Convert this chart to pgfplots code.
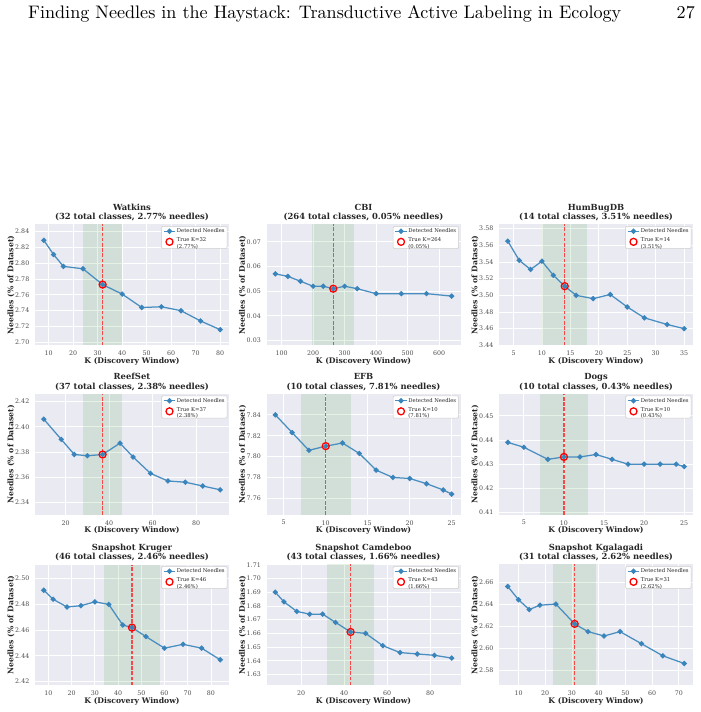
\documentclass[border=0pt]{standalone}
\usepackage{pgfplots}
\pgfplotsset{compat=1.18}
\usepackage{fontspec}
\newfontfamily\djv{DejaVu Serif}

\definecolor{sbbg}{HTML}{EAEAF2}
\definecolor{needle}{RGB}{72,142,192}
\definecolor{needlemark}{RGB}{58,132,188}
\definecolor{ticktxt}{HTML}{4D4D4D}
\definecolor{labtxt}{HTML}{262626}
\definecolor{bandgreen}{RGB}{0,128,0}
\definecolor{kred}{RGB}{245,72,72}

\newcommand\tickfont{\djv\fontsize{6.3}{7}\selectfont}
\newcommand\labfont{\djv\bfseries\fontsize{7.7}{9}\selectfont}
\newcommand\titfont{\djv\bfseries\fontsize{8.4}{9.8}\selectfont}
\newcommand\legfont{\djv\fontsize{5.3}{6.6}\selectfont}

\pgfplotsset{
  panel/.style={
    scale only axis, width=194pt, height=121pt,
    anchor=south west,
    axis background/.style={fill=sbbg},
    axis line style={draw=none},
    tick style={draw=none},
    major tick length=0pt,
    grid=major, grid style={white, line width=0.8pt},
    scaled ticks=false,
    /pgf/number format/assume math mode=true,
    tick label style={font=\tickfont, text=ticktxt},
    xticklabel style={yshift=-1.8pt},
    yticklabel style={xshift=-2.2pt,
      /pgf/number format/fixed,
      /pgf/number format/fixed zerofill,
      /pgf/number format/precision=2},
    xlabel={K (Discovery Window)},
    ylabel={Needles (\% of Dataset)},
    label style={font=\labfont, text=labtxt},
    xlabel style={at={(axis description cs:0.5,-0.13)}, anchor=center},
    ylabel style={at={(axis description cs:-0.124,0.5)}, anchor=center},
    title style={font=\titfont, text=labtxt, align=center,
      at={(axis description cs:0.5,1)}, anchor=south, inner sep=2.6pt,
      yshift=-5.5pt},
    legend style={at={(axis description cs:0.991,0.986)}, anchor=north east,
      font=\legfont, text=labtxt, draw=black!20, line width=0.5pt, fill=white,
      rounded corners=1.2pt, inner xsep=1.4pt, inner ysep=1.2pt, row sep=1.3pt,
      nodes={inner sep=0.9pt}},
    legend cell align=left,
    legend image code/.code={%
      \draw[mark repeat=2,mark phase=2,#1]
        plot coordinates {(0pt,0pt) (5.85pt,0pt) (11.7pt,0pt)};},
  },
  needles/.style={needle, line width=1.25pt, mark=*, mark size=1.95pt,
    mark options={fill=needlemark, draw=needlemark, solid}},
  truek/.style={only marks, mark=o, mark size=3.5pt,
    mark options={draw=red, line width=1.3pt}},
  band/.style={draw=none, fill=bandgreen, fill opacity=0.1, forget plot},
  kline/.style={draw=kred, line width=1.4pt,
    dash pattern=on 3.6pt off 1.6pt, forget plot},
}

\newcommand\truelabel[2]{\begin{tabular}{@{}l@{}}True K=#1\\(#2\%)\end{tabular}}

\begin{document}
\begin{tikzpicture}[x=1pt,y=1pt]
\useasboundingbox (0,0) rectangle (701,712);

% running head of the page
\node[anchor=base west, inner sep=0pt] at (28,693)
  {\resizebox{593pt}{!}{\fontsize{10}{12}\selectfont Finding Needles in the Haystack: Transductive Active Labeling in Ecology}};
\node[anchor=base east, inner sep=0pt] at (695,693)
  {\scalebox{1.808}{\fontsize{10}{12}\selectfont 27}};

% ---------------- row 1 ----------------
\begin{axis}[panel, at={(35pt,366.5pt)},
  title={Watkins\\(32 total classes, 2.77\% needles)},
  xmin=4.4, xmax=83.6, ymin=2.696, ymax=2.849,
  xtick={10,20,30,40,50,60,70,80},
  ytick={2.70,2.72,2.74,2.76,2.78,2.80,2.82,2.84}]
\addplot[band] coordinates {(24,2.849) (40,2.849)} \closedcycle;
\addplot[kline] coordinates {(32,2.696) (32,2.849)};
\addplot[needles] coordinates {(8,2.829) (12,2.811) (16,2.796) (24,2.793) (32,2.773) (40,2.761) (48,2.744) (56,2.745) (64,2.740) (72,2.727) (80,2.716)};
\addlegendentry{Detected Needles}
\addplot[truek] coordinates {(32,2.773)};
\addlegendentry{\truelabel{32}{2.77}}
\end{axis}

\begin{axis}[panel, at={(266.5pt,366.5pt)},
  title={CBI\\(264 total classes, 0.05\% needles)},
  xmin=52, xmax=668, ymin=0.028, ymax=0.077,
  xtick={100,200,300,400,500,600},
  ytick={0.03,0.04,0.05,0.06,0.07}]
\addplot[band] coordinates {(198,0.077) (330,0.077)} \closedcycle;
\addplot[kline] coordinates {(264,0.028) (264,0.077)};
\addplot[needles] coordinates {(80,0.057) (120,0.056) (160,0.054) (200,0.052) (232,0.052) (264,0.051) (300,0.052) (340,0.051) (400,0.049) (480,0.049) (560,0.049) (640,0.048)};
\addlegendentry{Detected Needles}
\addplot[truek] coordinates {(264,0.051)};
\addlegendentry{\truelabel{264}{0.05}}
\end{axis}

\begin{axis}[panel, at={(499pt,366.5pt)},
  title={HumBugDB\\(14 total classes, 3.51\% needles)},
  xmin=2.45, xmax=36.55, ymin=3.4398, ymax=3.585,
  xtick={5,10,15,20,25,30,35},
  ytick={3.44,3.46,3.48,3.50,3.52,3.54,3.56,3.58}]
\addplot[band] coordinates {(10,3.585) (18,3.585)} \closedcycle;
\addplot[kline] coordinates {(14,3.4398) (14,3.585)};
\addplot[needles] coordinates {(4,3.565) (6,3.542) (8,3.531) (10,3.541) (12,3.524) (14,3.511) (16,3.500) (19,3.496) (22,3.501) (25,3.486) (28,3.473) (32,3.465) (35,3.460)};
\addlegendentry{Detected Needles}
\addplot[truek] coordinates {(14,3.511)};
\addlegendentry{\truelabel{14}{3.51}}
\end{axis}

% ---------------- row 2 ----------------
\begin{axis}[panel, at={(35pt,197pt)},
  title={ReefSet\\(37 total classes, 2.38\% needles)},
  xmin=5.95, xmax=95.05, ymin=2.330, ymax=2.426,
  xtick={20,40,60,80},
  ytick={2.34,2.36,2.38,2.40,2.42}]
\addplot[band] coordinates {(28,2.426) (46,2.426)} \closedcycle;
\addplot[kline] coordinates {(37,2.330) (37,2.426)};
\addplot[needles] coordinates {(10,2.406) (18,2.390) (24,2.378) (30,2.377) (37,2.378) (45,2.387) (51,2.376) (59,2.363) (67,2.357) (75,2.356) (83,2.353) (91,2.350)};
\addlegendentry{Detected Needles}
\addplot[truek] coordinates {(37,2.378)};
\addlegendentry{\truelabel{37}{2.38}}
\end{axis}

\begin{axis}[panel, at={(266.5pt,197pt)},
  title={EFB\\(10 total classes, 7.81\% needles)},
  xmin=2.95, xmax=26.05, ymin=7.744, ymax=7.860,
  xtick={5,10,15,20,25},
  ytick={7.76,7.78,7.80,7.82,7.84}]
\addplot[band] coordinates {(7,7.860) (13,7.860)} \closedcycle;
\addplot[kline] coordinates {(10,7.744) (10,7.860)};
\addplot[needles] coordinates {(4,7.840) (6,7.823) (8,7.806) (10,7.810) (12,7.813) (14,7.803) (16,7.787) (18,7.780) (20,7.779) (22,7.774) (24,7.768) (25,7.764)};
\addlegendentry{Detected Needles}
\addplot[truek] coordinates {(10,7.810)};
\addlegendentry{\truelabel{10}{7.81}}
\end{axis}

\begin{axis}[panel, at={(499pt,197pt)},
  title={Dogs\\(10 total classes, 0.43\% needles)},
  xmin=1.9, xmax=26.1, ymin=0.409, ymax=0.459,
  xtick={5,10,15,20,25},
  ytick={0.41,0.42,0.43,0.44,0.45}]
\addplot[band] coordinates {(7,0.459) (13,0.459)} \closedcycle;
\addplot[kline] coordinates {(10,0.409) (10,0.459)};
\addplot[needles] coordinates {(3,0.439) (5,0.437) (8,0.432) (10,0.433) (12,0.433) (14,0.434) (16,0.432) (18,0.430) (20,0.430) (22,0.430) (24,0.430) (25,0.429)};
\addlegendentry{Detected Needles}
\addplot[truek] coordinates {(10,0.433)};
\addlegendentry{\truelabel{10}{0.43}}
\end{axis}

% ---------------- row 3 ----------------
\begin{axis}[panel, at={(35pt,26.5pt)},
  title={Snapshot Kruger\\(46 total classes, 2.46\% needles)},
  xmin=4.2, xmax=87.8, ymin=2.417, ymax=2.511,
  xtick={10,20,30,40,50,60,70,80},
  ytick={2.42,2.44,2.46,2.48,2.50}]
\addplot[band] coordinates {(34,2.511) (58,2.511)} \closedcycle;
\addplot[kline] coordinates {(46,2.417) (46,2.511)};
\addplot[needles] coordinates {(8,2.491) (12,2.484) (18,2.478) (24,2.479) (30,2.482) (36,2.480) (42,2.464) (46,2.462) (52,2.455) (60,2.446) (68,2.449) (76,2.446) (84,2.437)};
\addlegendentry{Detected Needles}
\addplot[truek] coordinates {(46,2.462)};
\addlegendentry{\truelabel{46}{2.46}}
\end{axis}

\begin{axis}[panel, at={(266.5pt,26.5pt)},
  title={Snapshot Camdeboo\\(43 total classes, 1.66\% needles)},
  xmin=3.9, xmax=94.1, ymin=1.622, ymax=1.7102,
  xtick={20,40,60,80},
  ytick={1.63,1.64,1.65,1.66,1.67,1.68,1.69,1.70,1.71}]
\addplot[band] coordinates {(32,1.7102) (54,1.7102)} \closedcycle;
\addplot[kline] coordinates {(43,1.622) (43,1.7102)};
\addplot[needles] coordinates {(8,1.690) (12,1.683) (18,1.676) (24,1.674) (30,1.674) (36,1.668) (43,1.661) (50,1.660) (58,1.651) (66,1.646) (74,1.645) (82,1.644) (90,1.642)};
\addlegendentry{Detected Needles}
\addplot[truek] coordinates {(43,1.661)};
\addlegendentry{\truelabel{43}{1.66}}
\end{axis}

\begin{axis}[panel, at={(499pt,26.5pt)},
  title={Snapshot Kgalagadi\\(31 total classes, 2.62\% needles)},
  xmin=2.7, xmax=75.3, ymin=2.566, ymax=2.676,
  xtick={10,20,30,40,50,60,70},
  ytick={2.58,2.60,2.62,2.64,2.66}]
\addplot[band] coordinates {(23,2.676) (39,2.676)} \closedcycle;
\addplot[kline] coordinates {(31,2.566) (31,2.676)};
\addplot[needles] coordinates {(6,2.656) (10,2.644) (14,2.635) (18,2.639) (24,2.640) (31,2.622) (36,2.615) (42,2.611) (48,2.615) (56,2.604) (64,2.593) (72,2.586)};
\addlegendentry{Detected Needles}
\addplot[truek] coordinates {(31,2.622)};
\addlegendentry{\truelabel{31}{2.62}}
\end{axis}
\end{tikzpicture}
\end{document}
